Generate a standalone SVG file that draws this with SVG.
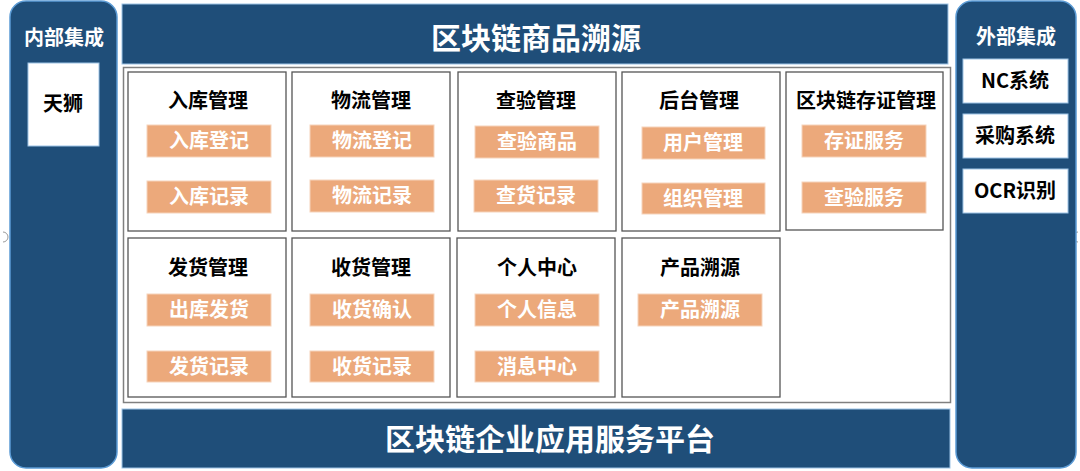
<svg xmlns="http://www.w3.org/2000/svg" width="1080" height="471" viewBox="0 0 1080 471">
<style>
.side{fill:#1f4e79;stroke:#5b9bd5;stroke-width:1.5}
.bar{fill:#1f4e79;stroke:#9dc3e6;stroke-width:1}
.wbox{fill:#ffffff;stroke:#9dc3e6;stroke-width:1}
.cell{fill:#ffffff;stroke:#555555;stroke-width:1.3}
.item{fill:#eca97b;stroke:#f6d3bb;stroke-width:1}
text{font-family:"Noto Sans CJK SC","Microsoft YaHei",sans-serif;font-weight:bold;text-anchor:middle;dominant-baseline:central}
.wt{fill:#ffffff}
.bt{fill:#000000}
.big{font-size:30px}
.mid{font-size:20px}
</style>
<rect width="1080" height="471" fill="#ffffff"/>
<path d="M3,232 A5,5 0 0 1 3,242" fill="none" stroke="#999999" stroke-width="1"/>
<path d="M1078,232 A5,5 0 0 0 1078,242" fill="none" stroke="#999999" stroke-width="1"/>

<g id="internal">
<rect class="side" x="10" y="1" width="107" height="467" rx="16"/>
<text class="wt mid" x="64" y="36">内部集成</text>
<g id="tianshi"><rect class="wbox" x="28" y="63" width="71" height="83"/><text class="bt mid" x="63" y="102">天狮</text></g>
</g>

<g id="external">
<rect class="side" x="956" y="1" width="120" height="467" rx="16"/>
<text class="wt mid" x="1016" y="35">外部集成</text>
<g id="nc"><rect class="wbox" x="963" y="59" width="105" height="44"/><text class="bt mid" x="1015" y="79">NC系统</text></g>
<g id="caigou"><rect class="wbox" x="963" y="114" width="105" height="44"/><text class="bt mid" x="1015" y="134">采购系统</text></g>
<g id="ocr"><rect class="wbox" x="963" y="169" width="105" height="44"/><text class="bt mid" x="1015" y="189">OCR识别</text></g>
</g>

<g id="title">
<rect class="bar" x="122" y="4" width="826" height="60"/>
<text class="wt big" x="536" y="36">区块链商品溯源</text>
</g>

<g id="frame"><rect x="123.5" y="67.5" width="827" height="335" fill="#ffffff" stroke="#808080" stroke-width="1.5"/></g>

<g id="platform">
<rect class="bar" x="122" y="409" width="828" height="59"/>
<text class="wt big" x="550" y="437">区块链企业应用服务平台</text>
</g>

<g id="ruku">
<rect class="cell" x="128" y="72" width="158" height="159"/>
<text class="bt mid" x="208" y="99">入库管理</text>
<rect class="item" x="147" y="125" width="124" height="32"/><text class="wt mid" x="209" y="139">入库登记</text>
<rect class="item" x="147" y="181" width="124" height="32"/><text class="wt mid" x="209" y="195">入库记录</text>
</g>
<g id="wuliu">
<rect class="cell" x="292" y="72" width="158" height="159"/>
<text class="bt mid" x="371" y="99">物流管理</text>
<rect class="item" x="310" y="125" width="124" height="32"/><text class="wt mid" x="372" y="139">物流登记</text>
<rect class="item" x="310" y="180" width="124" height="32"/><text class="wt mid" x="372" y="194">物流记录</text>
</g>
<g id="chayan">
<rect class="cell" x="458" y="72" width="158" height="159"/>
<text class="bt mid" x="536" y="99">查验管理</text>
<rect class="item" x="475" y="126" width="124" height="32"/><text class="wt mid" x="537" y="140">查验商品</text>
<rect class="item" x="474" y="180" width="124" height="32"/><text class="wt mid" x="536" y="194">查货记录</text>
</g>
<g id="houtai">
<rect class="cell" x="622" y="72" width="158" height="159"/>
<text class="bt mid" x="699" y="99">后台管理</text>
<rect class="item" x="642" y="127" width="123" height="32"/><text class="wt mid" x="703" y="141">用户管理</text>
<rect class="item" x="642" y="183" width="123" height="31"/><text class="wt mid" x="703" y="197">组织管理</text>
</g>
<g id="cunzheng">
<rect class="cell" x="786" y="72" width="157" height="158"/>
<text class="bt mid" x="866" y="99">区块链存证管理</text>
<rect class="item" x="802" y="125" width="124" height="32"/><text class="wt mid" x="864" y="139">存证服务</text>
<rect class="item" x="802" y="182" width="124" height="31"/><text class="wt mid" x="864" y="196">查验服务</text>
</g>

<g id="fahuo">
<rect class="cell" x="128" y="238" width="158" height="159"/>
<text class="bt mid" x="208" y="266">发货管理</text>
<rect class="item" x="147" y="294" width="124" height="32"/><text class="wt mid" x="209" y="308">出库发货</text>
<rect class="item" x="147" y="351" width="124" height="31"/><text class="wt mid" x="209" y="365">发货记录</text>
</g>
<g id="shouhuo">
<rect class="cell" x="292" y="238" width="158" height="159"/>
<text class="bt mid" x="371" y="266">收货管理</text>
<rect class="item" x="310" y="294" width="124" height="32"/><text class="wt mid" x="372" y="308">收货确认</text>
<rect class="item" x="310" y="351" width="124" height="31"/><text class="wt mid" x="372" y="365">收货记录</text>
</g>
<g id="geren">
<rect class="cell" x="457" y="238" width="158" height="159"/>
<text class="bt mid" x="537" y="266">个人中心</text>
<rect class="item" x="475" y="294" width="124" height="32"/><text class="wt mid" x="537" y="308">个人信息</text>
<rect class="item" x="475" y="351" width="124" height="31"/><text class="wt mid" x="537" y="365">消息中心</text>
</g>
<g id="suyuan">
<rect class="cell" x="622" y="238" width="158" height="159"/>
<text class="bt mid" x="700" y="266">产品溯源</text>
<rect class="item" x="638" y="294" width="124" height="32"/><text class="wt mid" x="700" y="308">产品溯源</text>
</g>
<g id="connectors"/>
</svg>
